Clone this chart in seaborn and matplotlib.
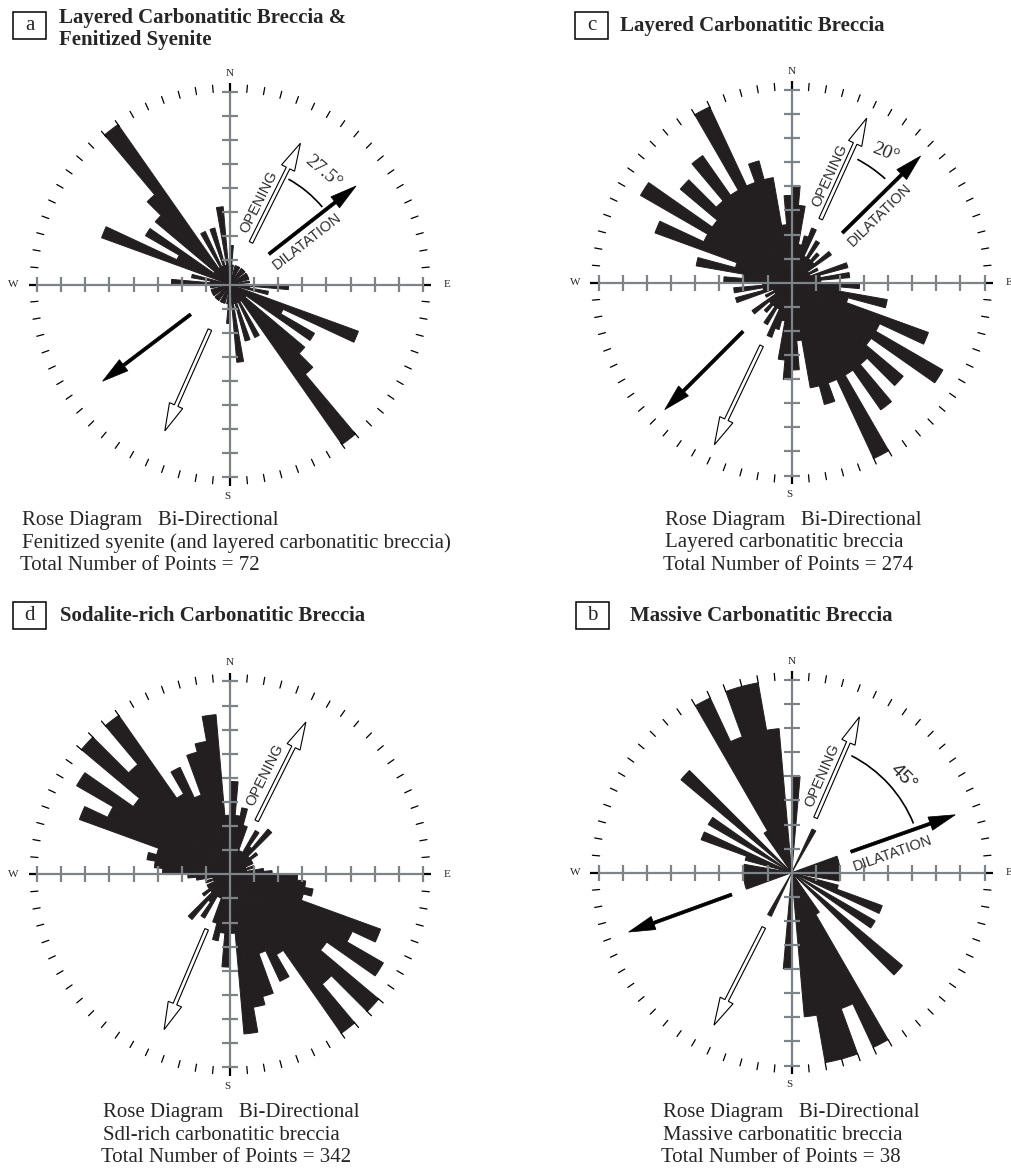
import numpy as np
import pandas as pd
import seaborn as sns
import matplotlib.pyplot as plt
from matplotlib.patches import FancyArrow, Arc, Rectangle

sns.set_style('white')
plt.rcParams['font.family'] = ['Liberation Serif', 'DejaVu Serif']

# 5 degree classes from 0 to 180, mirrored to 180-360 (bi-directional rose)
bins = np.arange(0, 180, 5)

counts_a = [2, 1, 0, 1, 1, 1, 0, 1, 1, 1, 0, 1, 1, 1, 1, 0, 1, 0,
            3, 1, 2, 0, 7, 3, 5, 1, 5, 6, 10, 1, 3, 1, 3, 1, 4, 0]
counts_c = [10, 8, 4, 5, 6, 3, 5, 3, 4, 3, 5, 2, 3, 2, 6, 3, 6, 3,
            7, 5, 10, 6, 15, 10, 18, 10, 15, 11, 16, 11, 20, 11, 13, 11, 6, 9]
counts_d = [11, 7, 8, 6, 3, 3, 6, 4, 7, 3, 4, 3, 3, 2, 3, 2, 4, 5,
            8, 9, 10, 9, 19, 16, 21, 14, 23, 17, 23, 11, 14, 10, 15, 16, 19, 7]
counts_b = [2, 0, 0, 0, 0, 1, 0, 0, 0, 0, 0, 0, 0, 0, 1, 1, 1, 1,
            1, 1, 0, 1, 2, 0, 2, 0, 3, 0, 0, 1, 4, 3, 4, 4, 3, 0]

titles = {'a': ['Layered Carbonatitic Breccia &', 'Fenitized Syenite'],
          'c': ['Layered Carbonatitic Breccia'],
          'd': ['Sodalite-rich Carbonatitic Breccia'],
          'b': ['Massive Carbonatitic Breccia']}
rock_names = {'a': 'Fenitized syenite (and layered carbonatitic breccia)',
              'c': 'Layered carbonatitic breccia',
              'd': 'Sdl-rich carbonatitic breccia',
              'b': 'Massive carbonatitic breccia'}
n_points = {'a': 72, 'c': 274, 'd': 342, 'b': 38}
angle_labels = {'a': '27.5°', 'c': '20°', 'b': '45°'}

W, H = 1012, 1169
RING = 24.1     # px between ticks on the cross
HALF = 222      # half size of each plot box, px
HR = HALF / RING
BAR = '#231f20'
GREY = '#7d8387'

fig = plt.figure(figsize=(W / 100, H / 100), dpi=100)


def box(cx, cy):
    return [(cx - HALF) / W, (H - cy - HALF) / H, 2 * HALF / W, 2 * HALF / H]


def xy(az, r):
    a = np.deg2rad(az)
    return r * np.sin(a), r * np.cos(a)


def ftext(x, y, s, **kw):
    fig.text(x / W, 1 - y / H, s, **kw)


def arrow(ox, az, r0, r1, hollow):
    x0, y0 = xy(az, r0)
    x1, y1 = xy(az, r1)
    if hollow:
        ox.add_patch(FancyArrow(x0, y0, x1 - x0, y1 - y0, width=0.16, head_width=0.6,
                                head_length=1.15, length_includes_head=True,
                                fc='white', ec='black', lw=0.8))
    else:
        ox.add_patch(FancyArrow(x0, y0, x1 - x0, y1 - y0, width=0.13, head_width=0.58,
                                head_length=1.1, length_includes_head=True,
                                fc='black', ec='black', lw=0.5))


def rose(cx, cy, counts, unit):
    pax = fig.add_axes(box(cx, cy), projection='polar')
    pax.set_theta_zero_location('N')
    pax.set_theta_direction(-1)
    theta = np.deg2rad(np.concatenate([bins, bins + 180]) + 2.5)
    df = pd.DataFrame({'theta': theta, 'n': list(counts) * 2})
    df = df[df['n'] > 0]
    sns.barplot(data=df, x='theta', y='n', native_scale=True, width=1, color=BAR,
                saturation=1, errorbar=None, linewidth=0.7, edgecolor=BAR, ax=pax)
    pax.set_ylim(0, HR * unit)
    pax.set_axis_off()

    ox = fig.add_axes(box(cx, cy))
    ox.set_xlim(-HR, HR)
    ox.set_ylim(-HR, HR)
    ox.set_axis_off()
    # cross with ring ticks
    for az in (0, 90, 180, 270):
        x1, y1 = xy(az, 8)
        ox.plot([0, x1], [0, y1], color=GREY, lw=1.6, solid_capstyle='butt')
        x2, y2 = xy(az, 8.35)
        ox.plot([x1, x2], [y1, y2], color='black', lw=1.6, solid_capstyle='butt')
        qx, qy = xy(az + 90, 0.33)
        for k in range(1, 9):
            px_, py_ = xy(az, k)
            ox.plot([px_ - qx, px_ + qx], [py_ - qy, py_ + qy], color=GREY, lw=1.6,
                    solid_capstyle='butt')
    # outer ring of dashes
    for az in range(5, 360, 5):
        if az % 90:
            x1, y1 = xy(az, 8.0)
            x2, y2 = xy(az, 8.3)
            ox.plot([x1, x2], [y1, y2], color='black', lw=0.9)
    for lab, (x, y) in {'N': (0, 8.77), 'S': (-0.1, -8.8), 'W': (-9.0, 0), 'E': (9.0, 0)}.items():
        ox.text(x, y, lab, ha='center', va='center', fontsize=8)
    return ox


# panel centres (px) and ring unit (counts per ring)
panels = {'a': (230, 284.5, counts_a, 10 / 8.1),
          'c': (791.7, 282.7, counts_c, 20 / 8.05),
          'd': (230, 874.3, counts_d, 23 / 8.05),
          'b': (791.7, 872.7, counts_b, 4 / 8.0)}

opening = {'a': [(26.5, 1.95, 6.55), (204, 2.05, 6.65)],
           'c': [(24.5, 2.9, 7.5), (205.5, 2.9, 7.45)],
           'd': [(26.5, 2.48, 7.06), (203, 2.48, 7.0)],
           'b': [(23.5, 2.48, 7.05), (207, 2.55, 7.1)]}
dilatation = {'a': [(52, 2.05, 6.64), (232.8, 2.05, 6.64)],
              'c': [(45.5, 2.95, 7.5), (225, 2.86, 7.45)],
              'b': [(70.5, 2.6, 7.2), (250, 2.65, 7.2)]}
open_txt = {'a': (18.9, 3.63, 63.5), 'c': (19.6, 4.74, 65.5),
            'd': (19.4, 4.37, 63.5), 'b': (17, 4.24, 66.5)}
dil_txt = {'a': (60.7, 3.67, 38), 'c': (52.3, 4.6, 44.5), 'b': (79, 4.27, 19.5)}
arc_pos = {'a': (5.0, 29, 50, 39.7, 6.05, -40, 'serif'),
           'c': (5.8, 28, 42, 35.9, 6.66, -22, 'serif'),
           'b': (5.45, 27, 68, 49.3, 6.1, -45, 'sans')}

sans = ['Liberation Sans', 'DejaVu Sans']

for key, (cx, cy, counts, unit) in panels.items():
    ox = rose(cx, cy, counts, unit)
    for az, r0, r1 in opening[key]:
        arrow(ox, az, r0, r1, True)
    for az, r0, r1 in dilatation.get(key, []):
        arrow(ox, az, r0, r1, False)
    az, r, rot = open_txt[key]
    x, y = xy(az, r)
    ox.text(x, y, 'OPENING', family=sans, fontsize=10.5, color='#2b2b2b', rotation=rot,
            rotation_mode='anchor', ha='center', va='center')
    if key in dil_txt:
        az, r, rot = dil_txt[key]
        x, y = xy(az, r)
        ox.text(x, y, 'DILATATION', family=sans, fontsize=10.5, color='#2b2b2b', rotation=rot,
                rotation_mode='anchor', ha='center', va='center')
    if key in arc_pos:
        ra, a0, a1, taz, tr, trot, fam = arc_pos[key]
        ox.add_patch(Arc((0, 0), 2 * ra, 2 * ra, theta1=90 - a1, theta2=90 - a0,
                         color='black', lw=1.2))
        x, y = xy(taz, tr)
        ox.text(x, y, angle_labels[key], family=sans if fam == 'sans' else None,
                fontsize=14, rotation=trot, rotation_mode='anchor', ha='center', va='center')

# headers: letter boxes and titles
heads = {'a': (13, 12, 59, 18), 'c': (575, 12, 620, 26), 'd': (13, 602, 60, 616),
         'b': (576, 602, 630, 616)}
for key, (bx, by, tx, ty) in heads.items():
    fig.add_artist(Rectangle((bx / W, 1 - (by + 27) / H), 33 / W, 27 / H,
                             transform=fig.transFigure, fill=False, ec='black', lw=1.1))
    ftext(bx + 16.5, by + 13.5, key, ha='center', va='center', fontsize=15)
    for i, line in enumerate(titles[key]):
        ftext(tx, ty + 22 * i, line, ha='left', va='center', fontsize=15, weight='bold')

# footers
foots = {'a': (22, 521), 'c': (665, 521), 'd': (103, 1113), 'b': (663, 1113)}
for key, (fx, fy) in foots.items():
    ftext(fx, fy, 'Rose Diagram   Bi-Directional', ha='left', va='center', fontsize=15)
    ftext(fx, fy + 22, rock_names[key], ha='left', va='center', fontsize=15)
    ftext(fx - 2, fy + 44, 'Total Number of Points = %d' % n_points[key],
          ha='left', va='center', fontsize=15)

fig.savefig('out.png', dpi=100)
